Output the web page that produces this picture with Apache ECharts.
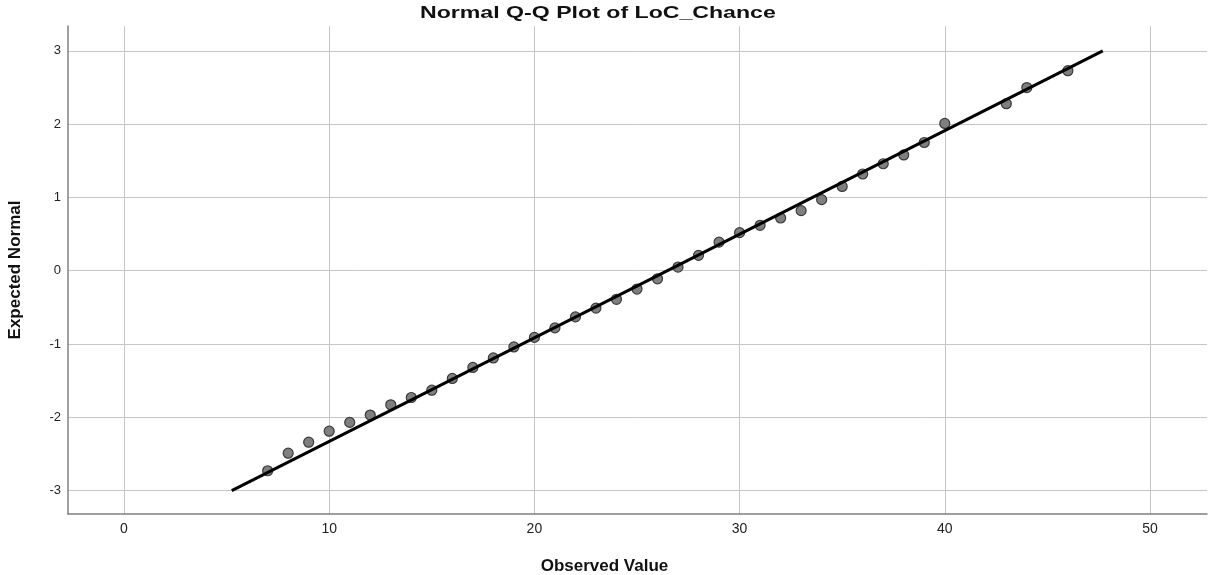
<!DOCTYPE html>
<html>
<head>
<meta charset="utf-8">
<script src="https://cdn.jsdelivr.net/npm/echarts@6/dist/echarts.min.js"></script>
<style>
html,body{margin:0;padding:0;background:#fff;}
#main{width:1208px;height:575px;}
</style>
</head>
<body>
<div id="main"></div>
<script>
// Q-Q plot data
var observed = [7,8,9,10,11,12,13,14,15,16,17,18,19,20,21,22,23,24,25,26,27,28,29,30,31,32,33,34,35,36,37,38,39,40,43,44,46];
var expected = [-2.73,-2.49,-2.34,-2.19,-2.07,-1.97,-1.83,-1.73,-1.63,-1.47,-1.32,-1.19,-1.04,-0.91,-0.78,-0.63,-0.51,-0.39,-0.25,-0.11,0.05,0.21,0.39,0.52,0.62,0.72,0.82,0.97,1.15,1.32,1.46,1.58,1.75,2.01,2.28,2.50,2.73];
// reference line end points
var lineX = [5.25, 47.7];
var lineY = [-3, 3];
var xTicks = [0,10,20,30,40,50];
var yTicks = [-3,-2,-1,0,1,2,3];

var points = [];
for(var i = 0;i<observed.length;i++){
    points.push([observed[i],expected[i]]);
}
var linePts = [];
for(var i = 0;i<lineX.length;i++){
    linePts.push([lineX[i],lineY[i]]);
}

var chart = echarts.init(document.getElementById('main'));
var option = {
    animation:false,
    backgroundColor:'#fff',
    graphic:[{
        type:'text',
        left:420,
        top:5,
        scaleX:1.36,
        style:{
            text:'Normal Q-Q Plot of LoC_Chance',
            fill:'#111',
            font:'bold 17px "Liberation Sans", Arial, sans-serif'
        }
    }],
    grid:{left:68,right:1,top:26,bottom:61,outerBoundsMode:'none'},
    xAxis:{
        type:'value',
        min:-2.73,
        max:52.78,
        name:'Observed Value',
        nameLocation:'middle',
        nameGap:44,
        nameTextStyle:{fontSize:17,fontWeight:'bold',color:'#111',padding:[0,66,0,0],fontFamily:'"Liberation Sans Narrow","Liberation Sans",sans-serif'},
        axisLine:{show:true,onZero:false,lineStyle:{color:'#808080',width:1.5}},
        axisTick:{show:false,customValues:xTicks},
        axisLabel:{customValues:xTicks,margin:8,fontSize:14,color:'#222',fontFamily:'"Liberation Sans Narrow","Liberation Sans",sans-serif'},
        splitLine:{show:true,lineStyle:{color:'#c6c6c6',width:1}}
    },
    yAxis:{
        type:'value',
        min:-3.32,
        max:3.34,
        name:'Expected Normal',
        nameLocation:'middle',
        nameGap:44,
        nameTextStyle:{fontSize:17,fontWeight:'bold',color:'#111',fontFamily:'"Liberation Sans",sans-serif'},
        axisLine:{show:true,onZero:false,lineStyle:{color:'#808080',width:1.5}},
        axisTick:{show:false,customValues:yTicks},
        axisLabel:{customValues:yTicks,margin:7,fontSize:13,color:'#222',fontFamily:'"Liberation Sans",sans-serif'},
        splitLine:{show:true,lineStyle:{color:'#c6c6c6',width:1}}
    },
    series:[
        {
            type:'scatter',
            data:points,
            symbolSize:10,
            z:2,
            itemStyle:{color:'#7f7f7f',borderColor:'#3a3a3a',borderWidth:1.2,opacity:1}
        },
        {
            type:'line',
            data:linePts,
            symbol:'none',
            z:3,
            lineStyle:{color:'#000',width:3}
        }
    ]
};
chart.setOption(option);
</script>
</body>
</html>
